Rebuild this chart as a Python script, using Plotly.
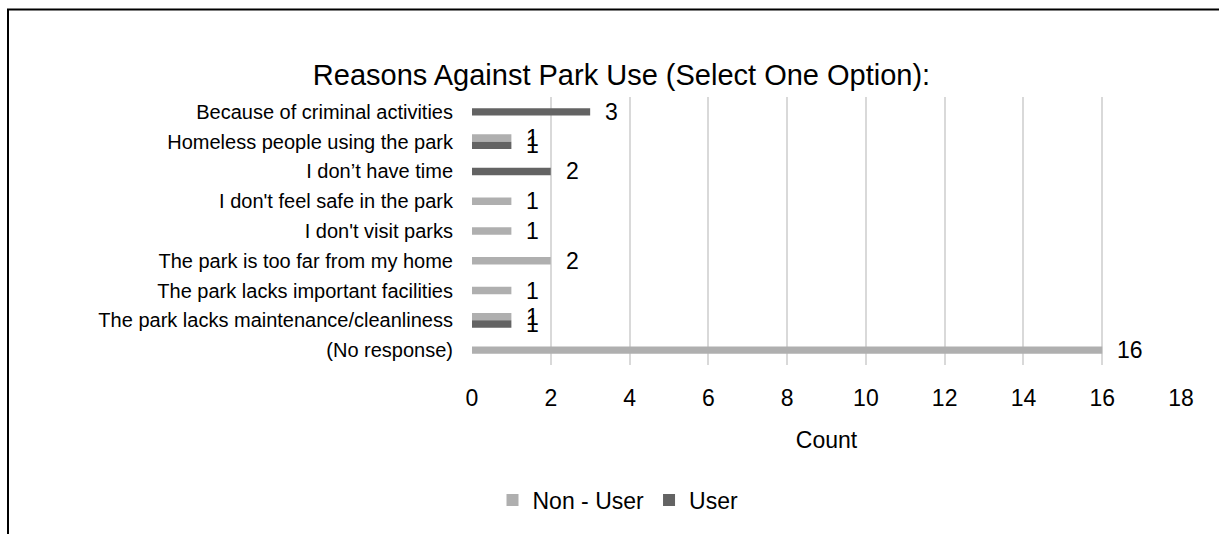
import plotly.graph_objects as go

# Survey responses: reasons given against using the park
categories = [
    "Because of criminal activities",
    "Homeless people using the park",
    "I don\u2019t have time",
    "I don't feel safe in the park",
    "I don't visit parks",
    "The park is too far from my home",
    "The park lacks important facilities",
    "The park lacks maintenance/cleanliness",
    "(No response)",
]
non_user = [None, 1, None, 1, 1, 2, 1, 1, 16]
user = [3, 1, 2, None, None, None, None, 1, None]

series_names = ["Non - User", "User"]
series_colors = ["#AFAFAF", "#636363"]
x_ticks = list(range(0, 19, 2))

W, H = 1219, 534
margin = dict(l=472, r=38, t=97, b=169)
plot_w = W - margin["l"] - margin["r"]
plot_h = H - margin["t"] - margin["b"]

FONT = "Liberation Sans, Arial, sans-serif"
bar_w = 0.25

# Bars in a category share the slot only when both series have a value;
# a lone bar is centred on its category.
def offsets(own, other, first):
    out = []
    for a, b in zip(own, other):
        if a is not None and b is not None:
            out.append(-bar_w if first else 0.0)
        else:
            out.append(-bar_w / 2)
    return out

series_vals = [non_user, user]
series_offsets = [
    offsets(non_user, user, True),
    offsets(user, non_user, False),
]

fig = go.Figure()
annotations = []
for name, color, vals, offs in zip(series_names, series_colors, series_vals, series_offsets):
    fig.add_trace(go.Bar(
        name=name,
        y=categories,
        x=vals,
        orientation="h",
        marker=dict(color=color, line=dict(width=0)),
        width=bar_w,
        offset=offs,
        hoverinfo="x+y+name",
    ))
    for i, (v, o) in enumerate(zip(vals, offs)):
        if v is None:
            continue
        annotations.append(dict(
            x=v, y=i + o + bar_w / 2, xref="x", yref="y",
            text=str(v), showarrow=False, xanchor="left", yanchor="middle",
            xshift=13, font=dict(family=FONT, size=23, color="#000000"),
        ))

# Page-coordinate helpers for the outer frame
def px_to_paper_x(px):
    return (px - margin["l"]) / plot_w

def px_to_paper_y(py):
    return (H - margin["b"] - py) / plot_h

frame_x0 = px_to_paper_x(8)
frame_y_top = px_to_paper_y(9.5)
frame_y_bot = px_to_paper_y(H + 5)
frame_x_right = px_to_paper_x(W + 5)

fig.update_layout(
    width=W, height=H,
    margin=margin,
    paper_bgcolor="white",
    plot_bgcolor="white",
    barmode="overlay",
    font=dict(family=FONT, size=20, color="#000000"),
    title=dict(
        text="Reasons Against Park Use (Select One Option):",
        x=621.5 / W, xanchor="center", y=1 - 75 / H, yanchor="middle",
        font=dict(family=FONT, size=29, color="#000000"),
    ),
    xaxis=dict(
        range=[0, 18],
        tickvals=x_ticks,
        showgrid=True, gridcolor="#D9D9D9", gridwidth=2,
        zeroline=False, showline=False,
        ticks="", ticklabelstandoff=17,
        tickfont=dict(family=FONT, size=23, color="#000000"),
        title=dict(text="Count", standoff=21,
                   font=dict(family=FONT, size=23, color="#000000")),
        fixedrange=True,
    ),
    yaxis=dict(
        type="category",
        categoryorder="array", categoryarray=categories,
        range=[len(categories) - 0.5, -0.5],
        showgrid=False, zeroline=False, showline=False,
        ticks="", ticklabelstandoff=18,
        tickfont=dict(family=FONT, size=20, color="#000000"),
        fixedrange=True,
    ),
    legend=dict(
        orientation="h", x=px_to_paper_x(618), xanchor="center",
        y=px_to_paper_y(500), yanchor="middle",
        font=dict(family=FONT, size=23, color="#000000"),
        itemclick=False, itemdoubleclick=False,
    ),
    annotations=annotations,
    shapes=[dict(
        type="path", xref="paper", yref="paper",
        path=f"M {frame_x0},{frame_y_bot} L {frame_x0},{frame_y_top} L {frame_x_right},{frame_y_top}",
        line=dict(color="#000000", width=2),
    )],
    showlegend=True,
)

fig.write_html("out.html")
